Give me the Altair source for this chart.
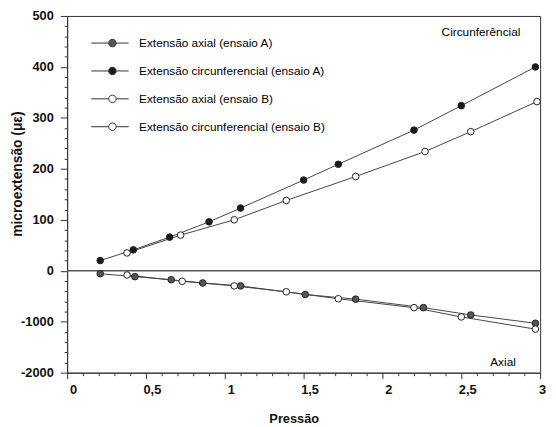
import altair as alt
import pandas as pd

series = [
    "Extensão axial (ensaio A)",
    "Extensão circunferencial (ensaio A)",
    "Extensão axial (ensaio B)",
    "Extensão circunferencial (ensaio B)",
]

axial_a_p = [0.21, 0.43, 0.66, 0.86, 1.10, 1.51, 1.83, 2.26, 2.56, 2.97]
axial_a_v = [-58, -116, -175, -239, -297, -466, -557, -724, -867, -1030]
circ_a_p = [0.21, 0.42, 0.65, 0.90, 1.10, 1.50, 1.72, 2.20, 2.50, 2.97]
circ_a_v = [20, 41, 66, 96, 123, 178, 209, 276, 324, 400]
axial_b_p = [0.38, 0.73, 1.06, 1.39, 1.72, 2.20, 2.50, 2.97]
axial_b_v = [-83, -207, -297, -413, -549, -724, -906, -1145]
circ_b_p = [0.38, 0.72, 1.06, 1.39, 1.83, 2.27, 2.56, 2.98]
circ_b_v = [35, 70, 100, 138, 185, 234, 273, 332]

y_major = [-2000, -1000, 0, 100, 200, 300, 400, 500]
x_major = [0, 0.5, 1, 1.5, 2, 2.5, 3]

annot_text = ["Circunferêncial", "Axial"]
annot_x = [2.875, 2.846]
annot_y = [469, -1793]

rows = []
for name, ps, vs in zip(series,
                        [axial_a_p, circ_a_p, axial_b_p, circ_b_p],
                        [axial_a_v, circ_a_v, axial_b_v, circ_b_v]):
    for p, v in zip(ps, vs):
        rows.append({"serie": name, "pressao": p, "valor": v})
df = pd.DataFrame(rows)
annot = pd.DataFrame({"txt": annot_text, "x": annot_x, "y": annot_y})
zero = pd.DataFrame({"y": [0]})

W, H = 480, 362
FONT = "Liberation Sans"

y_values = [v for v in range(-2000, 0, 200)] + [v for v in range(0, 501, 20)]
x_values = [round(i * 0.1, 1) for i in range(31)]

y_major_js = "[" + ",".join(str(v) for v in y_major) + "]"
x_major_js = "[" + ",".join(str(v) for v in x_major) + "]"

x_scale = alt.Scale(domain=[0, 3], nice=False, zero=False)
y_scale = alt.Scale(domain=[-2000, 0, 500], range=[H, H * 5 / 7, 0], nice=False, zero=False)

x_axis = alt.Axis(
    values=x_values,
    labelExpr=f"indexof({x_major_js}, datum.value) >= 0 ? replace(toString(datum.value), '.', ',') : ''",
    tickSize={"condition": {"test": f"indexof({x_major_js}, datum.value) < 0", "value": 3}, "value": 6},
    labelPadding=5,
    labelOffset={"condition": {"test": "datum.value >= 2.9", "value": 2}, "value": 6},
    labelFont=FONT, labelFontSize=13, labelFontWeight="bold", labelColor="#111",
    labelOverlap=False, labelFlush=False,
    title="Pressão", titleFont=FONT, titleFontSize=13, titleFontWeight="bold", titleColor="#111",
    titleX=230, titleY=47, titleAnchor="start", titleAlign="center", titleBaseline="middle",
    domainColor="#333", tickColor="#333", grid=False,
)
y_axis = alt.Axis(
    values=y_values,
    labelExpr=f"indexof({y_major_js}, datum.value) >= 0 ? toString(datum.value) : ''",
    tickSize={"condition": {"test": f"indexof({y_major_js}, datum.value) < 0", "value": 3}, "value": 7},
    labelPadding=7,
    labelFont=FONT, labelFontSize=13, labelFontWeight="bold", labelColor="#111",
    labelOverlap=False, labelFlush=False,
    title="microextensão (με)", titleFont=FONT, titleFontSize=14, titleFontWeight="bold", titleColor="#111",
    titleX=-50, titleY=160, titleAngle=-90, titleAlign="center", titleBaseline="middle",
    domainColor="#333", tickColor="#333", grid=False,
)

base = alt.Chart(df)

zero_rule = alt.Chart(zero).mark_rule(color="#555", strokeWidth=1.5).encode(
    y=alt.Y("y:Q", scale=y_scale, axis=y_axis)
)

lines = base.mark_line(color="#444", strokeWidth=1).encode(
    x=alt.X("pressao:Q", scale=x_scale, axis=x_axis),
    y=alt.Y("valor:Q", scale=y_scale, axis=y_axis),
    detail="serie:N",
)

sym_path = ("M-2.15,0H-0.38M0.38,0H1.65"
            "M0.38,0A0.38,0.38,0,1,1,-0.38,0A0.38,0.38,0,1,1,0.38,0Z")

points = base.mark_point(filled=True, size=45, stroke="#222", strokeWidth=1, opacity=1).encode(
    x=alt.X("pressao:Q", scale=x_scale, axis=x_axis),
    y=alt.Y("valor:Q", scale=y_scale, axis=y_axis),
    fill=alt.Fill(
        "serie:N",
        scale=alt.Scale(domain=series, range=["#555555", "#1a1a1a", "#ffffff", "#ffffff"]),
        legend=alt.Legend(
            title=None, orient="none", legendX=35.5, legendY=17, padding=0,
            symbolType=sym_path, symbolSize=400, symbolStrokeWidth=1,
            symbolStrokeColor="#333", labelFont=FONT, labelFontSize=12,
            labelColor="#000", labelOffset=16.5, rowPadding=11.3, labelLimit=400,
        ),
    ),
)

texts = alt.Chart(annot).mark_text(
    align="right", baseline="middle", font=FONT, fontSize=12, color="#000"
).encode(
    x=alt.X("x:Q", scale=x_scale, axis=x_axis),
    y=alt.Y("y:Q", scale=y_scale, axis=y_axis),
    text="txt:N",
)

chart = alt.layer(zero_rule, lines, points, texts).properties(
    width=W, height=H,
    autosize=alt.AutoSizeParams(type="none"),
    padding={"left": 60, "top": 5, "right": 8, "bottom": 50},
    background="white",
).configure_view(stroke="#333", strokeWidth=1)

chart.save("out.html", embed_options={"renderer": "svg", "actions": False})
